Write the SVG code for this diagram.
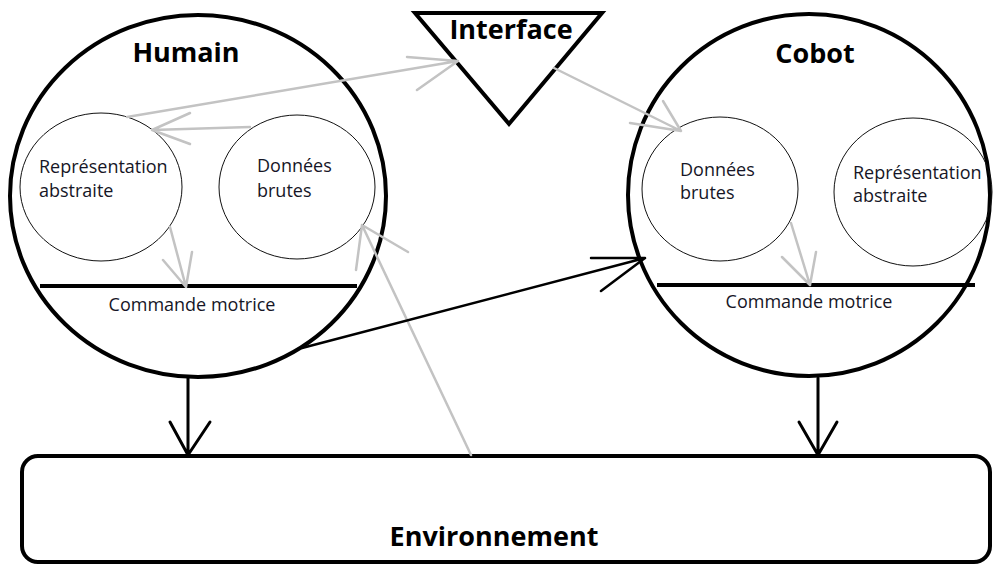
<svg xmlns="http://www.w3.org/2000/svg" width="995" height="565" viewBox="0 0 995 565">
<style>
.big{fill:none;stroke:#000;stroke-width:4}
.inner{fill:none;stroke:#111;stroke-width:1}
.bar{stroke:#000;stroke-width:4}
.t{font-family:"Open Sans","DejaVu Sans",sans-serif;font-size:18px;fill:#161626}
.h{font-family:"Open Sans","DejaVu Sans",sans-serif;font-size:27px;font-weight:bold;fill:#000}
.g{stroke:#c3c3c3;stroke-width:2.5;fill:none;stroke-linecap:round;stroke-linejoin:round}
.k{stroke:#000;stroke-width:2.5;fill:none;stroke-linecap:round;stroke-linejoin:round}
.kd{stroke:#000;stroke-width:3;fill:none;stroke-linecap:round;stroke-linejoin:round}
</style>
<rect width="995" height="565" fill="#fff"/>
<g id="humain">
<ellipse class="big" cx="198" cy="196" rx="188" ry="181"/>
<text class="h" x="186" y="62" text-anchor="middle">Humain</text>
<line class="bar" x1="40" y1="286" x2="357" y2="286"/>
<text class="t" x="192" y="311" text-anchor="middle">Commande motrice</text>
</g>
<g id="humain-repr">
<ellipse class="inner" cx="101" cy="187" rx="81" ry="74"/>
<text class="t" x="39" y="173">Représentation</text>
<text class="t" x="39" y="197">abstraite</text>
</g>
<g id="humain-donnees">
<ellipse class="inner" cx="297" cy="187" rx="78" ry="72"/>
<text class="t" x="257" y="172">Données</text>
<text class="t" x="257" y="197">brutes</text>
</g>
<g id="interface">
<polygon class="big" points="415,13 602,13 509,124"/>
<text class="h" x="511" y="39" text-anchor="middle">Interface</text>
</g>
<g id="cobot">
<ellipse class="big" cx="809" cy="195" rx="181" ry="181"/>
<text class="h" x="815" y="63" text-anchor="middle">Cobot</text>
<line class="bar" x1="657" y1="285" x2="975" y2="285"/>
<text class="t" x="809" y="308" text-anchor="middle">Commande motrice</text>
</g>
<g id="cobot-donnees">
<ellipse class="inner" cx="720" cy="189" rx="78" ry="72"/>
<text class="t" x="680" y="176">Données</text>
<text class="t" x="680" y="199">brutes</text>
</g>
<g id="cobot-repr">
<ellipse class="inner" cx="913" cy="192" rx="79" ry="74"/>
<text class="t" x="853" y="179">Représentation</text>
<text class="t" x="853" y="202">abstraite</text>
</g>
<g id="environnement">
<rect class="big" x="22" y="456" width="968" height="106" rx="16" ry="16"/>
<text class="h" x="494" y="546" text-anchor="middle">Environnement</text>
</g>
<g id="connectors">
<path class="g" d="M127,117 L458,61 M407,57 L458,61 L417,90"/>
<path class="g" d="M250,127 L152,130 M190,113 L152,130 L190,144"/>
<path class="g" d="M170,227 L186,287 M163,260 L186,287 L192,252"/>
<path class="g" d="M471,455 L362,225 M356,270 L362,225 L408,252"/>
<path class="g" d="M554,68 L681,131 M663,101 L681,131 L630,123"/>
<path class="g" d="M791,223 L810,285 M782,257 L810,285 L816,252"/>
<path class="k" d="M302,348 L645,258 M591,258 L645,258 L601,291"/>
<path class="kd" d="M188,378 L188,455 M170,422 L188,455 L210,422"/>
<path class="kd" d="M818,378 L818,455 M799,422 L818,455 L837,422"/>
</g>
</svg>
